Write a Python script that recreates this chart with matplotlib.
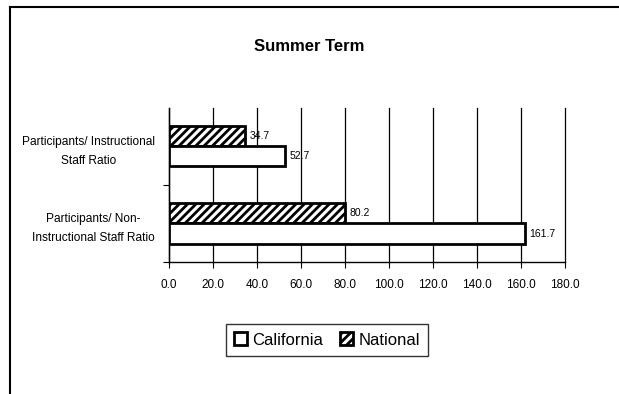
import matplotlib.pyplot as plt
from matplotlib.lines import Line2D
from matplotlib.patches import Patch
import numpy as np

plt.rcParams['font.family'] = ['Liberation Sans', 'DejaVu Sans']
plt.rcParams['hatch.linewidth'] = 2.0

categories = ["Participants/ Instructional\nStaff Ratio",
              "Participants/ Non-\nInstructional Staff Ratio"]
california = [52.7, 161.7]
national = [34.7, 80.2]
xticks = [0, 20, 40, 60, 80, 100, 120, 140, 160, 180]

fig = plt.figure(figsize=(6.19, 3.94), dpi=100)
ax = fig.add_axes([0.273, 0.335, 0.640, 0.391])

pos = np.arange(len(categories)) + 0.5
h = 0.26
ax.barh(pos - h / 2, national, height=h, color='white', edgecolor='black',
        hatch='////', linewidth=2, zorder=3)
ax.barh(pos + h / 2, california, height=h, color='white', edgecolor='black',
        linewidth=2, zorder=3)

for p, v in zip(pos, national):
    ax.text(v + 2, p - h / 2, f"{v:.1f}", va='center', ha='left', fontsize=7.5)
for p, v in zip(pos, california):
    ax.text(v + 2, p + h / 2, f"{v:.1f}", va='center', ha='left', fontsize=7.5)

ax.set_xlim(0, 180)
ax.set_ylim(2, 0)
ax.set_xticks(xticks)
ax.set_xticklabels([f"{t:.1f}" for t in xticks], fontsize=8.5)
ax.set_yticks([1, 2])
ax.set_yticklabels([])
ax.set_yticks(pos, minor=True)
ax.set_yticklabels(categories, minor=True, fontsize=8.6, multialignment='center',
                   linespacing=1.8)
ax.tick_params(axis='y', which='minor', length=0, pad=10)
ax.tick_params(axis='y', which='major', length=4, direction='out')
ax.tick_params(axis='x', length=4, pad=8)
ax.xaxis.grid(True, color='black', linewidth=0.9, zorder=0)
for gl in ax.get_xgridlines():
    gl.set_clip_on(False)
ax.set_axisbelow(True)
for s in ['top', 'right']:
    ax.spines[s].set_visible(False)
ax.spines['left'].set_linewidth(1)
ax.spines['bottom'].set_linewidth(1)

fig.text(0.5, 0.883, "Summer Term", ha='center', va='center',
         fontsize=12, fontweight='bold')

handles = [Patch(facecolor='white', edgecolor='black', linewidth=2, label='California'),
           Patch(facecolor='white', edgecolor='black', hatch='////', linewidth=2, label='National')]
fig.legend(handles=handles, loc='center', bbox_to_anchor=(0.528, 0.137), ncol=2,
           fontsize=12, frameon=True, fancybox=False, edgecolor='black',
           handlelength=0.8, handleheight=0.8, handletextpad=0.3, columnspacing=1.0,
           borderpad=0.5, borderaxespad=0)

# outer chart frame (only top and left edges visible)
fig.add_artist(Line2D([10 / 619, 10 / 619], [0, 1 - 7 / 394], color='black', linewidth=1.5))
fig.add_artist(Line2D([10 / 619, 1], [1 - 7 / 394, 1 - 7 / 394], color='black', linewidth=1.5))

fig.savefig("out.png", dpi=100)
